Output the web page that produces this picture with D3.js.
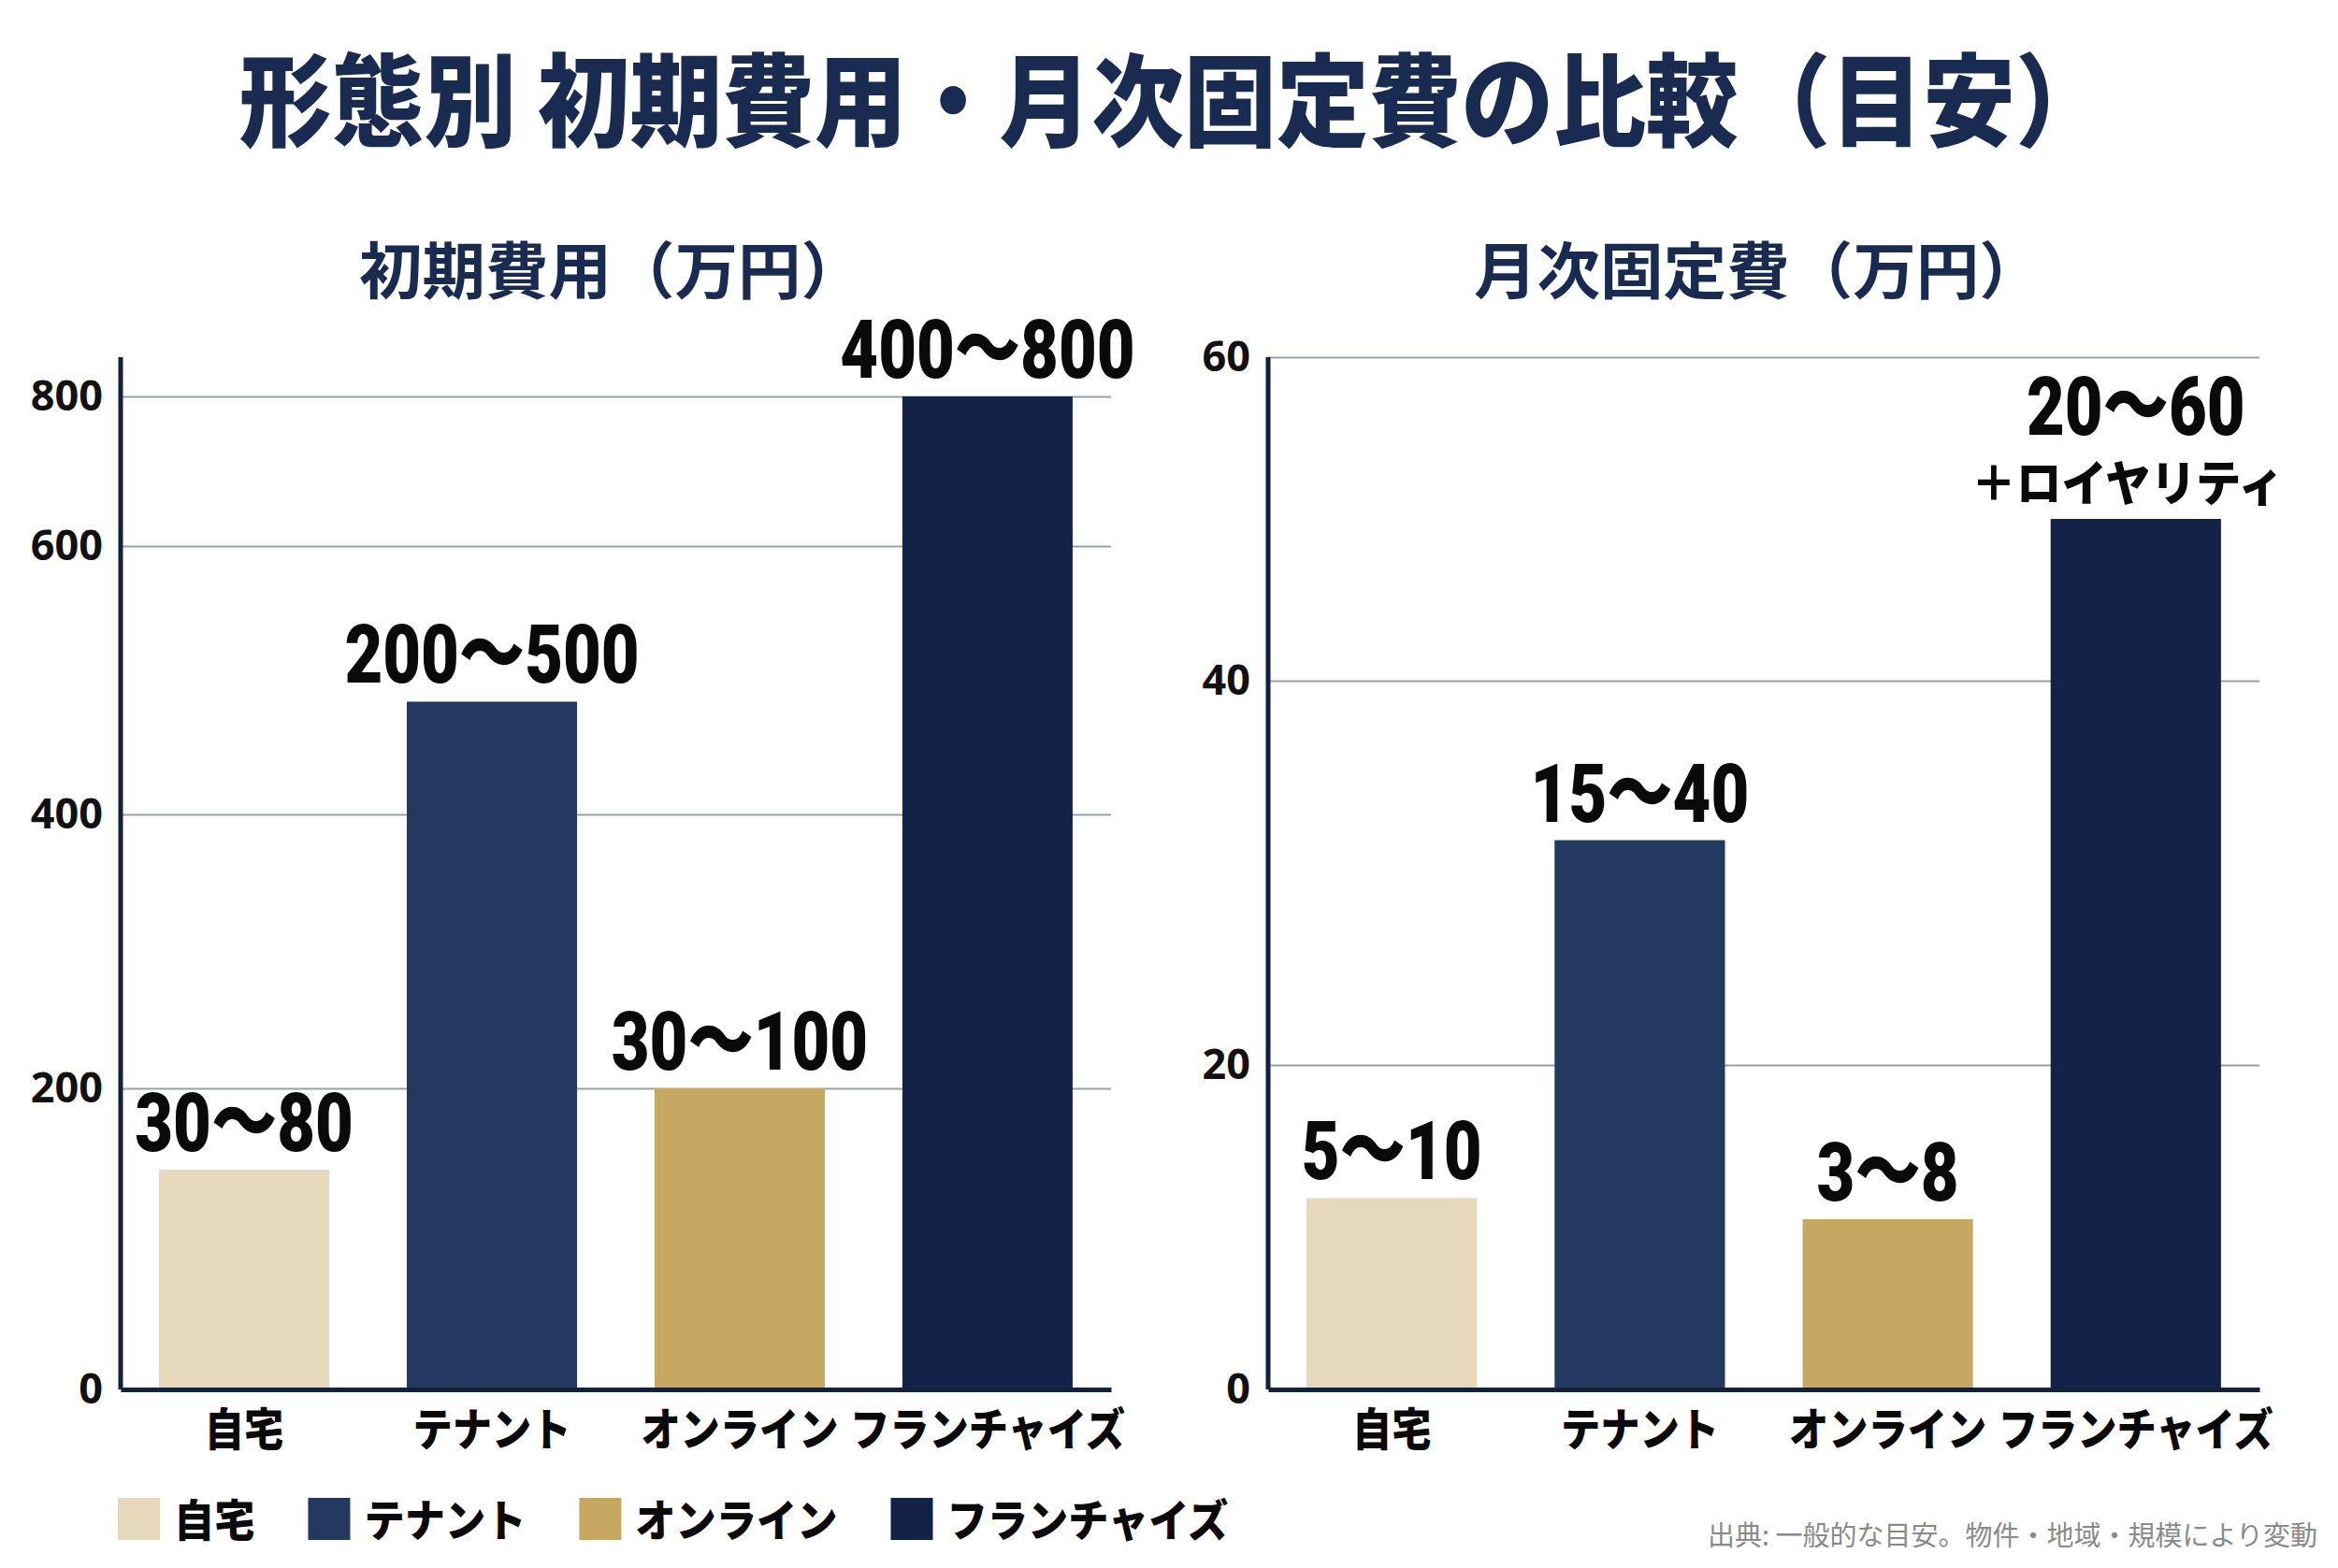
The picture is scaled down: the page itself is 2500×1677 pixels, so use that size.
<!DOCTYPE html>
<html lang="ja">
<head>
<meta charset="UTF-8" />
<title>形態別 初期費用・月次固定費の比較（目安）</title>
<script src="https://d3js.org/d3.v7.min.js"></script>
<style>
    body { margin: 0; background: #ffffff; }
    svg { display: block; }
    .cjk { font-family: "Noto Sans CJK JP", "Noto Sans", sans-serif; }
    .num { font-family: Roboto, "Noto Sans CJK JP", sans-serif; }
</style>
</head>
<body>
<script>
    var categories = ["自宅", "テナント", "オンライン", "フランチャイズ"];
    var colors = ["#e5d8bb", "#233960", "#c6a862", "#132248"];

    // 初期費用（万円）
    var initialValues = [146, 484, 200, 800];
    var initialLabels = ["30〜80", "200〜500", "30〜100", "400〜800"];
    var initialTicks = [0, 200, 400, 600, 800];

    // 月次固定費（万円）
    var monthlyValues = [11.8, 31.7, 10.5, 50];
    var monthlyLabels = ["5〜10", "15〜40", "3〜8", "20〜60"];
    var monthlyNotes = ["", "", "", "＋ロイヤリティ"];
    var monthlyTicks = [0, 20, 40, 60];

    var W = 2500, H = 1677;
    var navy = "#14213d";
    var plotTop = 382, plotBottom = 1486;

    var svg = d3.select("body").append("svg")
        .attr("width", W)
        .attr("height", H);

    // 横方向に圧縮したテキスト（元画像は長体の書体）
    function squeezedText(parent, x, y, str, sx, cls, size, weight, fill, anchor) {
        var g = parent.append("g")
            .attr("transform", "translate(" + x + "," + y + ") scale(" + sx + ",1)");
        var t = g.append("text")
            .attr("class", cls)
            .attr("font-size", size)
            .attr("font-weight", weight)
            .attr("fill", fill)
            .attr("text-anchor", anchor || "middle")
            .text(str);
        return { g: g, t: t };
    }
    function fitWidth(obj, x, y, target) {
        var w = obj.t.node().getComputedTextLength();
        obj.g.attr("transform", "translate(" + x + "," + y + ") scale(" + (target / w) + ",1)");
    }

    // タイトル
    var title = squeezedText(svg, 256, 148, "形態別 初期費用・月次固定費の比較（目安）", 1, "cjk", 108, 900, "#1a2b52", "start");
    fitWidth(title, 256, 148, 1998);

    var panels = [
        { title: "初期費用（万円）", titleX: 384, titleW: 540, x0: 129, x1: 1188,
          values: initialValues, labels: initialLabels, notes: null,
          ticks: initialTicks, tickY: [1486, 1164, 871, 584, 424] },
        { title: "月次固定費（万円）", titleX: 1576, titleW: 608, x0: 1356, x1: 2416,
          values: monthlyValues, labels: monthlyLabels, notes: monthlyNotes,
          ticks: monthlyTicks, tickY: [1486, 1139, 728, 382] }
    ];

    panels.forEach(function (p) {
        var sub = squeezedText(svg, p.titleX, 314, p.title, 1, "cjk", 66, 700, "#1a2b52", "start");
        fitWidth(sub, p.titleX, 314, p.titleW);

        var x = d3.scaleBand()
            .domain(categories)
            .range([p.x0, p.x1])
            .paddingInner(0.313)
            .paddingOuter(0.155);
        // 目盛り間隔が不均等なため区分線形スケール
        var y = d3.scaleLinear()
            .domain(p.ticks)
            .range(p.tickY);

        // グリッド線
        var grid = svg.append("g")
            .attr("transform", "translate(" + p.x0 + ",0)")
            .call(d3.axisLeft(y)
                .tickValues(p.ticks.filter(function (t) { return t > 0; }))
                .tickSize(-(p.x1 - p.x0))
                .tickFormat(""));
        grid.select(".domain").remove();
        grid.selectAll(".tick line").attr("stroke", "#9aa1ad").attr("stroke-width", 2);

        // 目盛りラベル
        var yAxis = svg.append("g")
            .attr("transform", "translate(" + p.x0 + ",0)")
            .call(d3.axisLeft(y).tickValues(p.ticks).tickSize(0).tickPadding(19));
        yAxis.select(".domain").remove();
        yAxis.selectAll("text")
            .attr("font-family", "'Noto Sans', 'DejaVu Sans', sans-serif")
            .attr("font-size", 45)
            .attr("font-weight", 700)
            .attr("fill", "#111");

        // 棒
        svg.selectAll(null)
            .data(p.values)
            .enter()
            .append("rect")
            .attr("x", function (d, i) { return x(categories[i]); })
            .attr("y", function (d) { return y(d); })
            .attr("width", x.bandwidth())
            .attr("height", function (d) { return plotBottom - y(d); })
            .attr("fill", function (d, i) { return colors[i]; });

        // 値ラベル
        p.values.forEach(function (v, i) {
            var cx = x(categories[i]) + x.bandwidth() / 2;
            var base = y(v) - 20;
            var note = p.notes && p.notes[i];
            if (note) {
                squeezedText(svg, cx - 9, base + 1, note, 0.93, "cjk", 52, 900, "#0a0a0a");
                base -= 70;
            }
            squeezedText(svg, cx, base, p.labels[i], 0.8, "num", 88, 900, "#0a0a0a");
        });

        // 軸線
        svg.append("line")
            .attr("x1", p.x0).attr("x2", p.x0)
            .attr("y1", plotTop).attr("y2", plotBottom)
            .attr("stroke", navy).attr("stroke-width", 5);

        var xAxis = svg.append("g")
            .attr("transform", "translate(0," + plotBottom + ")")
            .call(d3.axisBottom(x).tickSize(0).tickSizeOuter(0));
        xAxis.select(".domain").attr("stroke", navy).attr("stroke-width", 5);
        xAxis.selectAll("text")
            .attr("class", "cjk")
            .attr("font-family", null)
            .attr("font-size", 48)
            .attr("font-weight", 900)
            .attr("fill", "#0a0a0a")
            .attr("dy", null)
            .attr("y", 60)
            .attr("transform", "scale(0.88,1)");
    });

    // 凡例
    var lx = 126;
    categories.forEach(function (c, i) {
        svg.append("rect")
            .attr("x", lx).attr("y", 1602)
            .attr("width", 45).attr("height", 45)
            .attr("fill", colors[i]);
        var item = squeezedText(svg, lx + 60, 1643, c, 0.92, "cjk", 47, 900, "#0a0a0a", "start");
        var w = item.t.node().getComputedTextLength() * 0.92;
        lx += 60 + w + 57;
    });

    // 出典
    svg.append("text")
        .attr("class", "cjk")
        .attr("x", 2478)
        .attr("y", 1653)
        .attr("text-anchor", "end")
        .attr("font-size", 29)
        .attr("fill", "#8a8a8a")
        .text("出典: 一般的な目安。物件・地域・規模により変動");
</script>
</body>
</html>
